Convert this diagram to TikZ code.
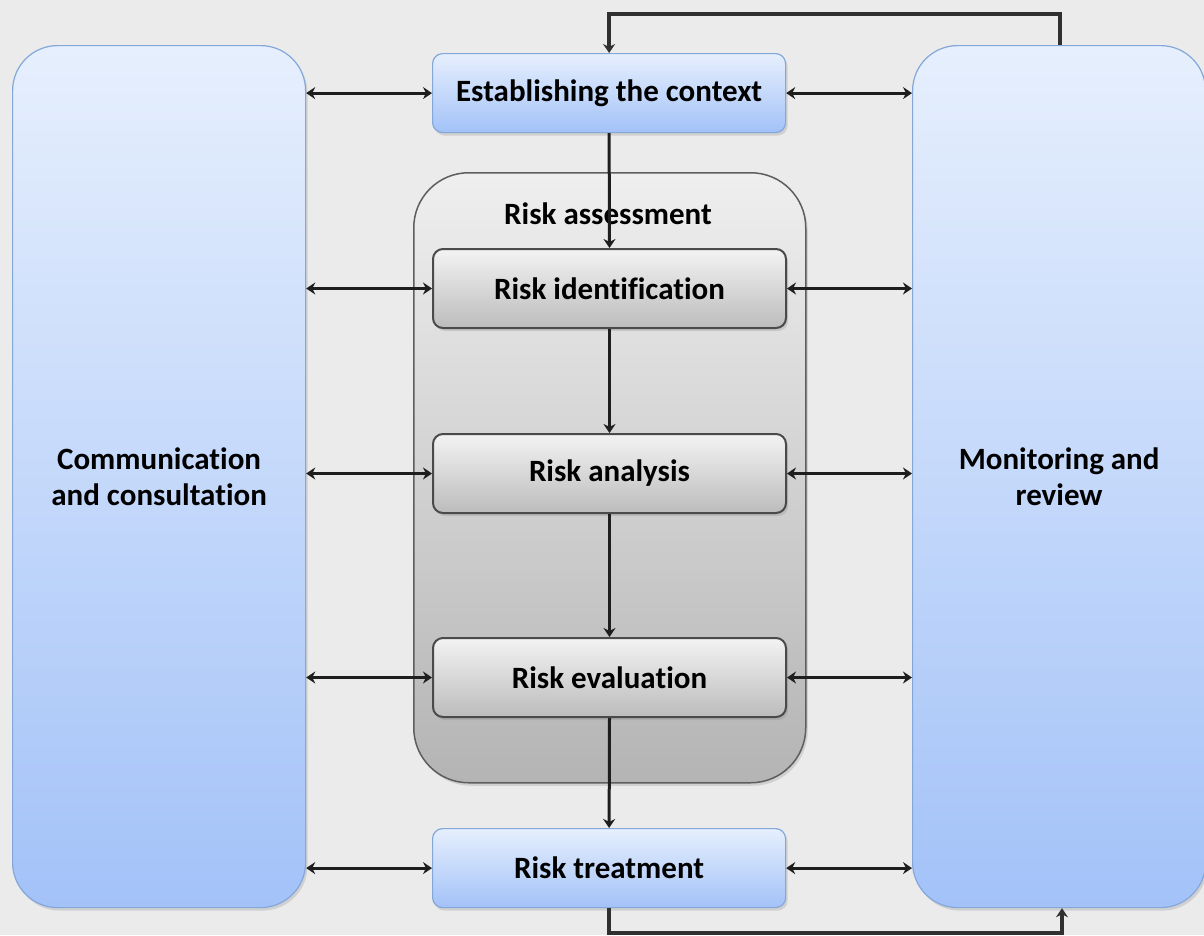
\documentclass[tikz,border=0pt]{standalone}
\usepackage{fontspec}
\setmainfont{Carlito}[Ligatures=NoCommon]
\usetikzlibrary{arrows.meta,shadows}
\definecolor{bg}{HTML}{EBEBEB}
\definecolor{bluetop}{HTML}{E6EFFD}
\definecolor{bluebot}{HTML}{A3C2F8}
\definecolor{blueline}{HTML}{84A7DA}
\definecolor{graytop}{HTML}{F3F3F3}
\definecolor{graybot}{HTML}{BCBCBC}
\definecolor{grayline}{HTML}{4A4A4A}
\definecolor{conttop}{HTML}{EFEFEF}
\definecolor{contbot}{HTML}{B4B4B4}
\definecolor{contline}{HTML}{5E5E5E}
\definecolor{arrowc}{HTML}{1E1E1E}
\definecolor{fbc}{HTML}{303030}
\tikzset{
  sidebox/.style={draw=blueline, line width=1.2pt, rounded corners=45pt,
    top color=bluetop, bottom color=bluebot, minimum width=293pt, minimum height=862pt,
    anchor=north west, align=center, font=\fontsize{31}{36}\selectfont\bfseries,
    drop shadow={shadow xshift=2pt,shadow yshift=-3pt,opacity=0.25}},
  bluestep/.style={draw=blueline, line width=1.2pt, rounded corners=10pt,
    top color=bluetop, bottom color=bluebot, minimum width=353pt, minimum height=79pt,
    anchor=north west, font=\fontsize{31}{36}\selectfont\bfseries,
    drop shadow={shadow xshift=2pt,shadow yshift=-3pt,opacity=0.25}},
  graystep/.style={draw=grayline, line width=2pt, rounded corners=10pt,
    top color=graytop, bottom color=graybot, minimum width=353pt, minimum height=79pt,
    anchor=north west, font=\fontsize{31}{36}\selectfont\bfseries,
    drop shadow={shadow xshift=2pt,shadow yshift=-3pt,opacity=0.25}},
  contbox/.style={draw=contline, line width=1.5pt, rounded corners=55pt,
    top color=conttop, bottom color=contbot, minimum width=392pt, minimum height=610pt,
    anchor=north west,
    drop shadow={shadow xshift=2pt,shadow yshift=-3pt,opacity=0.25}},
  dbl/.style={draw=arrowc, line width=3pt, {Stealth[length=9pt,width=12pt]}-{Stealth[length=9pt,width=12pt]}},
  down/.style={draw=arrowc, line width=3pt, -{Stealth[length=9pt,width=12pt]}},
  fb/.style={draw=fbc, line width=3.5pt, -{Stealth[length=9pt,width=12pt]}},
  txt/.style={font=\fontsize{31}{36}\selectfont\bfseries, inner sep=0pt}
}
\begin{document}
\begin{tikzpicture}[x=1pt,y=-1pt]
\fill[bg] (0,0) rectangle (1204,935);
\useasboundingbox (0,0) rectangle (1204,935);
\node[sidebox] (comm) at (12,45) {Communication\\and consultation};
\node[sidebox] (mon) at (912,45) {Monitoring and\\review};
\node[contbox] (cont) at (413,172) {};
\node[txt] (ratitle) at (608,214) {Risk assessment};
\node[bluestep] (ctx) at (432,53) {Establishing the context};
\node[graystep] (ident) at (432,248) {Risk identification};
\node[graystep] (anal) at (432,433) {Risk analysis};
\node[graystep] (eval) at (432,637) {Risk evaluation};
\node[bluestep] (treat) at (432,828) {Risk treatment};
\coordinate (topR) at (1060,14);
\coordinate (botR) at (1062,933);
% vertical flow
\draw[down] (ctx.south) -- (ident.north);
\draw[down] (ident.south) -- (anal.north);
\draw[down] (anal.south) -- (eval.north);
\draw[down] (eval.south) -- (treat.north);
% feedback
\draw[fb] (topR |- mon.north) -- (topR) -| (ctx.north);
\draw[fb] (treat.south) |- (botR) -- (botR |- mon.south);
% double arrows
\foreach \n in {ctx,ident,anal,eval,treat}{
  \draw[dbl] (\n.west -| comm.east) -- (\n.west);
  \draw[dbl] (\n.east) -- (\n.east -| mon.west);
}
\end{tikzpicture}
\end{document}
